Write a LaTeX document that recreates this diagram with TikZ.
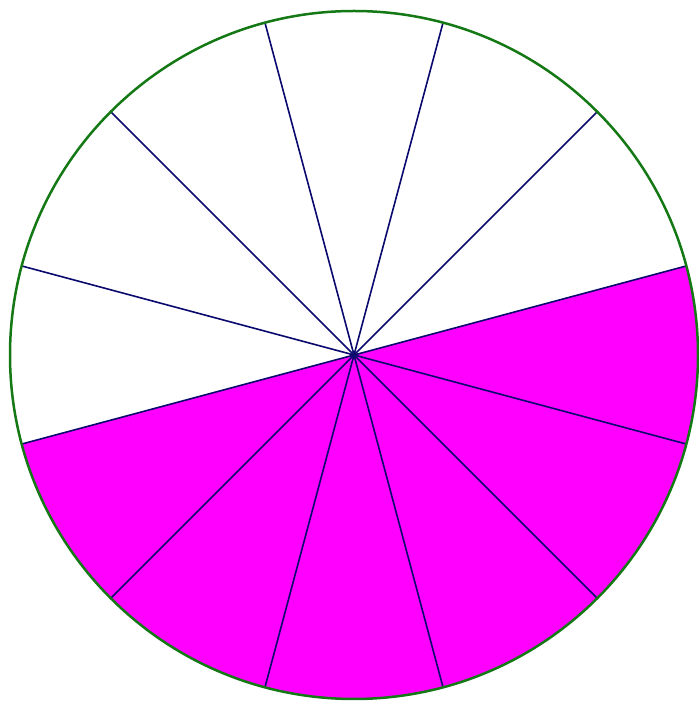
\documentclass[tikz,border=0pt]{standalone}
\definecolor{rimgreen}{RGB}{20,120,20}
\definecolor{spokeblue}{RGB}{10,10,110}
\definecolor{sectorpink}{RGB}{255,0,255}
\begin{document}
\begin{tikzpicture}[x=1pt,y=1pt]
  \useasboundingbox (0,0) rectangle (699,705);
  \coordinate (O) at (354,350);
  \fill[sectorpink] (O) -- ++(195:344) arc (195:375:344) -- cycle;
  \foreach \a in {15,45,...,345}
    \draw[spokeblue,line width=1.6pt] (O) -- ++(\a:344);
  \fill[spokeblue] (O) circle (3);
  \draw[rimgreen,line width=2.5pt] (O) circle (344);
\end{tikzpicture}
\end{document}
